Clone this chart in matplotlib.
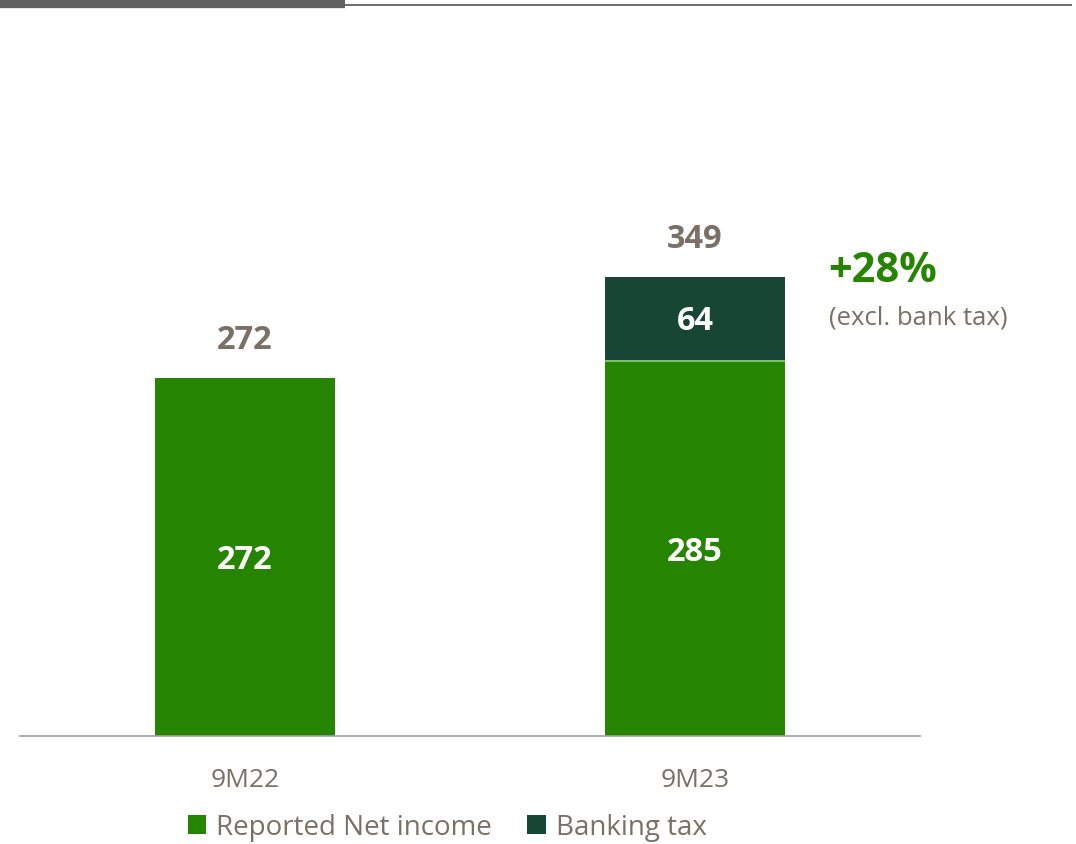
import matplotlib
matplotlib.use("Agg")
import matplotlib.pyplot as plt
from matplotlib.lines import Line2D
from matplotlib.patches import Patch

categories = ["9M22", "9M23"]
net_income = [272, 285]
banking_tax = [0, 64]
totals = [272, 349]
growth_label = "+28%"
growth_note = "(excl. bank tax)"

GREEN = "#268500"
DARK = "#174734"
GRAY = "#7a7066"
LINE = "#606060"

plt.rcParams['font.family'] = ['Open Sans', 'DejaVu Sans']

W, H = 1076, 845
fig = plt.figure(figsize=(W / 100, H / 100), dpi=100)
ax = fig.add_axes([20 / W, (H - 737) / H, 900 / W, 637 / H])
ax.set_xlim(-0.5, 1.5)
ax.set_ylim(0, 637 / 1.316)

x = list(range(len(categories)))
ax.bar(x, net_income, width=0.4, color=GREEN, edgecolor='none')
ax.bar(x, banking_tax, width=0.4, bottom=net_income, color=DARK, edgecolor='none')
# thin separator between segments
ax.bar([1], [1.2], width=0.4, bottom=net_income[1] - 0.6, color="#7fbf6a", edgecolor='none')

for xi, v in zip(x, net_income):
    ax.text(xi, v / 2 - 2, str(v), ha='center', va='center', color='white',
            fontsize=23.5, fontweight='bold')
for xi, v in zip(x, banking_tax):
    if v:
        ax.text(xi, net_income[xi] + v / 2 - 1, str(v), ha='center', va='center', color='white',
                fontsize=23.5, fontweight='bold')
for xi, t in zip(x, totals):
    ax.text(xi, t + 29, str(t), ha='center', va='center', color=GRAY,
            fontsize=23.5, fontweight='bold')

for s in ['top', 'right', 'left']:
    ax.spines[s].set_visible(False)
ax.spines['bottom'].set_color('#a0a0a0')
ax.spines['bottom'].set_linewidth(1.2)
ax.set_yticks([])
ax.set_xticks(x)
ax.set_xticklabels(categories, fontsize=19, color=GRAY)
ax.tick_params(axis='x', length=0, pad=22)

fig.text(828 / W, 1 - 271 / H, growth_label, ha='left', va='center', color=GREEN,
         fontsize=30, fontweight='bold')
fig.text(829 / W, 1 - 318 / H, growth_note, ha='left', va='center', color=GRAY, fontsize=18.5)

# top decorative lines
fig.add_artist(Line2D([0, 345 / W], [1 - 5 / H, 1 - 5 / H], color=LINE, lw=6, solid_capstyle='butt'))
fig.add_artist(Line2D([345 / W, 1072 / W], [1 - 6 / H, 1 - 6 / H], color=LINE, lw=1.3, solid_capstyle='butt'))

handles = [Patch(facecolor=GREEN, edgecolor='none', label="Reported Net income"),
           Patch(facecolor=DARK, edgecolor='none', label="Banking tax")]
leg = fig.legend(handles=handles, loc='center', bbox_to_anchor=(447 / W, 1 - 828 / H), ncol=2,
                 frameon=False, fontsize=20, handlelength=0.65, handleheight=0.65,
                 handletextpad=0.36, columnspacing=1.3, borderpad=0, borderaxespad=0)
for t in leg.get_texts():
    t.set_color(GRAY)

fig.savefig("out.png", dpi=100)
